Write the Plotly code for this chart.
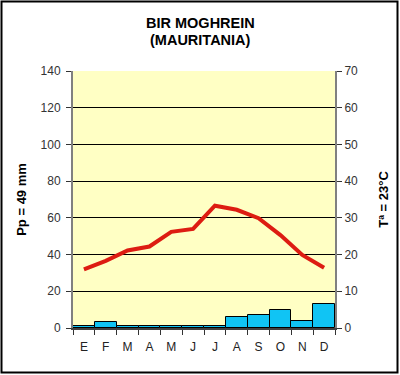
import plotly.graph_objects as go

months = ["E", "F", "M", "A", "M ", "J", "J ", "A ", "S", "O", "N", "D"]
month_labels = ["E", "F", "M", "A", "M", "J", "J", "A", "S", "O", "N", "D"]
precip = [1, 3, 1, 1, 1, 1, 1, 6, 7, 10, 4, 13]
temp = [16.0, 18.3, 21.1, 22.2, 26.2, 27.0, 33.3, 32.2, 29.9, 25.3, 19.9, 16.4]

title_lines = ["BIR MOGHREIN", "(MAURITANIA)"]
left_title = "Pp = 49 mm"
right_title = "Tª = 23°C"

FONT = "Liberation Sans, Arial, sans-serif"

fig = go.Figure()
fig.add_trace(go.Bar(
    x=months, y=precip, marker=dict(color="#10C4F4", line=dict(color="#000000", width=1)),
    yaxis="y", showlegend=False, hoverinfo="skip"))
fig.add_trace(go.Scatter(
    x=months, y=temp, mode="lines", line=dict(color="#DD1C12", width=4),
    yaxis="y2", showlegend=False, hoverinfo="skip"))

# plot area in pixels
L, R, T, B = 73, 335, 71, 328
W, H = R - L, B - T
def px_x(p):
    return (p - L) / W
def px_y(p):
    return (B - p) / H

annotations = []
for line, yc in zip(title_lines, [22.5, 40]):
    annotations.append(dict(text=line, xref="paper", yref="paper", x=px_x(200), y=px_y(yc),
                            xanchor="center", yanchor="middle", showarrow=False,
                            font=dict(family=FONT, size=14.5, color="#000000", weight="bold")))

fig.update_layout(
    width=400, height=375,
    margin=dict(l=L, r=400 - R, t=T, b=375 - B),
    paper_bgcolor="white", plot_bgcolor="#FFFFC4",
    bargap=0,
    font=dict(family=FONT, size=12, color="#333333"),
    annotations=annotations,
    xaxis=dict(type="category", tickvals=months, ticktext=month_labels,
               ticks="outside", ticklen=5, tickcolor="#333333", tickson="boundaries",
               showline=True, linecolor="#404040", linewidth=2, showgrid=False,
               ticklabelstandoff=7,
               tickfont=dict(size=12, color="#222222"), fixedrange=True),
    yaxis=dict(range=[0, 140], dtick=20, showgrid=True, gridcolor="#000000", gridwidth=1,
               ticks="outside", ticklen=5, tickcolor="#333333",
               showline=True, linecolor="#808080", linewidth=2, zeroline=False,
               ticklabelstandoff=3,
               title=dict(text=left_title, standoff=11,
                          font=dict(family=FONT, size=13, color="#000000", weight="bold")),
               tickfont=dict(size=12, color="#333333")),
    yaxis2=dict(range=[0, 70], dtick=10, overlaying="y", side="right", showgrid=False,
                ticks="outside", ticklen=5, tickcolor="#333333",
                showline=True, linecolor="#808080", linewidth=2, zeroline=False,
                title=dict(text=right_title, standoff=22,
                           font=dict(family=FONT, size=13, color="#000000", weight="bold")),
                tickfont=dict(size=12, color="#333333")),
    shapes=[dict(type="rect", xref="paper", yref="paper",
                 x0=px_x(1.5), x1=px_x(397.5), y0=px_y(372.5), y1=px_y(1.5),
                 line=dict(color="#000000", width=2), fillcolor="rgba(0,0,0,0)", layer="below")],
)

fig.write_html("out.html", config={"displayModeBar": False},
               post_script="document.body.style.margin='0';document.body.style.padding='0';")
